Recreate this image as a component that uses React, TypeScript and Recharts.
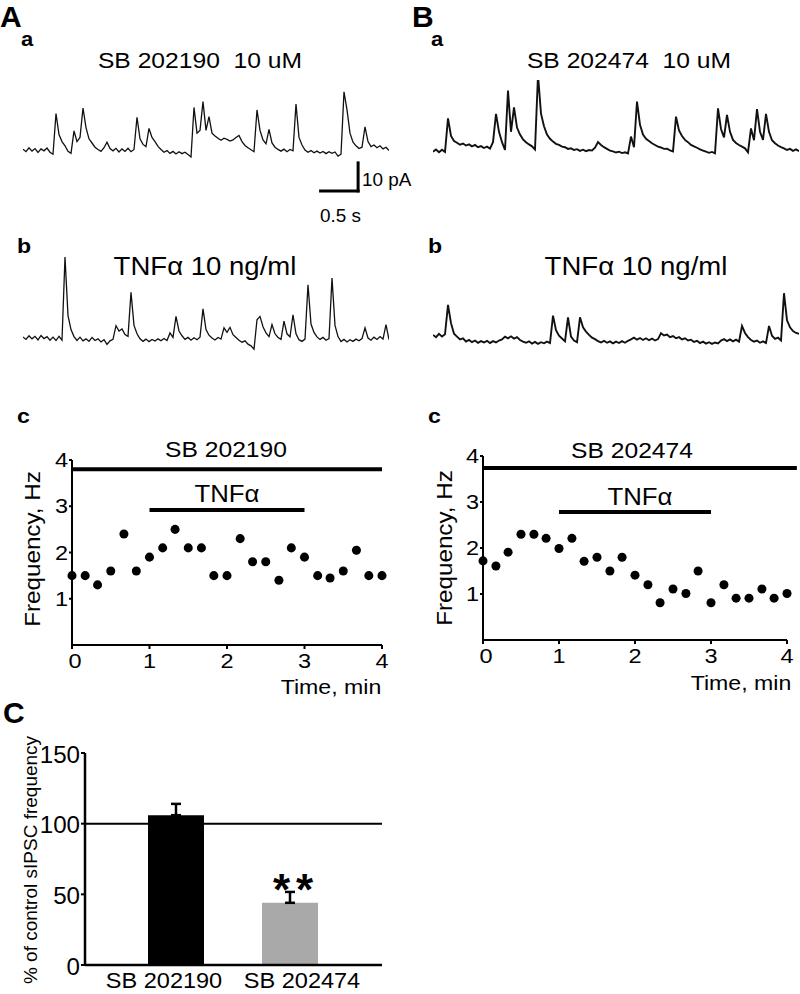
import React from "react";
import {
  LineChart,
  Line,
  XAxis,
  YAxis,
  ReferenceLine,
  ScatterChart,
  Scatter,
  ZAxis,
  BarChart,
  Bar,
  Cell,
  ErrorBar,
} from "recharts";

// sIPSC traces, current in pA above baseline, one sample every 40 ms
const TRACE_SB202190 = [
  0.3, -0.6, 0.8, -0.4, 0.5, -0.9, 0.4, -0.3, 0.7, -0.8,
  -1.5, 13.0, 5.5, 3.0, 1.5, -0.5, -1.2, 6.8, 3.0, 4.5,
  15.0, 8.0, 4.0, 2.5, 1.0, 0.2, -0.5, 0.8, 2.8, 0.5,
  -0.3, 0.6, -0.7, 0.4, -0.5, 0.6, -0.6, 0.2, 11.7, 4.0,
  2.0, 1.2, 7.7, 4.5, 3.0, 1.3, 0.2, -0.8, -0.2, -1.2,
  -0.5, -1.4, -0.6, -1.3, -0.8, -1.6, -2.5, 15.2, 6.0, 7.0,
  17.3, 7.0, 11.9, 6.0, 5.0, 4.2, 3.5, 4.2, 3.8, 3.2,
  3.6, 4.5, 5.2, 3.0, 1.6, 0.8, 0.1, -0.6, 14.3, 7.0,
  3.6, 2.2, 7.4, 2.5, 1.0, 0.2, -0.4, 0.3, -0.6, 0.2,
  -0.3, 16.4, 4.5, 1.8, 0.0, -0.8, -0.2, -1.0, -0.4, -1.1,
  -0.5, -1.3, -0.6, -1.2, -0.7, -2.2, -1.5, 20.8, 14.3, 6.0,
  2.8, 1.5, 0.5, 1.0, 8.3, 3.0, 1.2, 1.8, 0.8, 1.5,
  0.4, 1.0, -0.2,
];

const TRACE_SB202190_TNF = [
  0.4, -0.5, 0.8, -0.3, 0.6, -0.7, 0.9, -0.2, 0.5, -0.8,
  0.3, -0.9, 0.6, -0.8, 28.9, 8.0, 3.0, 0.5, -0.9, 0.3,
  -1.0, -0.3, -1.2, 0.2, -0.9, -0.3, -1.4, -0.6, -2.3, -1.0,
  -0.5, 4.4, 2.5, 3.2, 1.2, 0.6, 16.3, 4.5, 1.5, -0.3,
  -1.2, -0.4, -1.3, -0.5, -1.1, -0.3, -1.0, -0.2, -0.9, 1.8,
  0.2, 7.7, 2.5, 0.8, -0.5, 0.2, -0.8, 0.1, -0.6, 0.3,
  10.4, 3.0, 1.0, 0.0, -0.7, 0.2, -0.4, 3.6, 2.0, 3.8,
  1.2, 0.2, -0.8, -1.5, -1.0, -2.2, -2.8, -4.0, 6.5, 7.7,
  4.0, 1.8, 0.5, 4.8, 1.5, 0.2, -0.5, 6.0, 1.5, 0.4,
  8.3, 1.5, -0.6, -1.2, -0.4, 19.0, 5.0, 2.0, 0.4, -0.5,
  0.2, -0.8, -0.2, 21.4, 4.5, 0.5, -1.3, -0.5, -1.4, -0.6,
  -1.2, -0.4, -1.0, -0.2, 3.6, 0.0, -0.8, 0.3, -0.5, 0.5,
  -0.4, 4.8, -0.6,
];

const TRACE_SB202474 = [
  -0.6, 0.2, -0.8, 0.1, -0.7, 11.3, 5.0, 3.2, 2.6, 1.9,
  2.3, 1.6, 2.0, 1.3, 1.8, 1.0, 1.4, 0.7, 1.2, 0.5,
  2.8, 12.9, 6.5, 2.8, 0.0, 21.2, 6.5, 15.2, 8.0, 5.5,
  3.8, 2.8, 2.0, 1.3, 0.2, 26.8, 13.0, 8.5, 5.5, 4.0,
  3.0, 2.2, 1.8, 1.2, 1.0, 0.4, 0.6, 0.0, 0.3, -0.3,
  0.1, -0.4, 0.0, -0.2, 0.8, 2.8, 1.8, 1.0, 0.4, -0.2,
  -0.5, -0.9, -0.6, -1.1, -0.8, -1.2, 4.8, 1.0, 17.3, 9.0,
  5.5, 4.0, 3.2, 2.4, 1.8, 1.2, 0.9, 0.4, 0.5, -0.1,
  -0.5, 11.9, 7.0, 5.0, 3.6, 2.8, 1.8, 1.3, 0.8, 0.2,
  -0.2, -0.6, -1.0, -0.7, -1.2, 14.9, 7.5, 4.5, 12.5, 6.5,
  3.6, 2.5, 1.8, 1.2, 0.6, -0.8, 7.7, 3.5, 14.6, 6.5,
  3.6, 12.9, 6.5, 3.5, 2.4, 1.6, 1.0, 0.6, 0.0, 0.4,
  -0.3, 0.2, -0.4,
];

const TRACE_SB202474_TNF = [
  1.8, 1.0, 2.2, 1.2, 2.0, 12.5, 6.0, 2.2, 1.2, 0.2,
  0.6, -0.6, 0.0, -0.8, -0.2, -1.0, -0.4, -0.9, -0.3, -1.1,
  -0.4, -0.9, -0.2, 0.2, 1.2, 0.6, 1.3, 0.5, 1.0, 0.0,
  -0.6, -1.0, -0.5, -1.3, -0.7, -1.4, -0.8, -1.2, -0.6, -1.1,
  8.7, 3.5, 1.5, 0.5, -0.5, 8.1, 1.2, -0.2, -0.8, 8.1,
  4.5, 3.0, 1.8, 0.8, 0.3, -0.4, -0.9, -0.3, -1.0, -0.5,
  -1.2, -0.6, -1.1, -0.4, -1.0, -0.3, 0.2, 0.8, 0.1, 0.7,
  0.0, 0.6, -0.1, 0.5, -0.2, 0.3, 2.4, 1.6, 1.9, 1.0,
  1.4, 0.6, 1.0, 0.2, 0.6, -0.2, 0.1, -0.7, -0.3, -1.1,
  -0.6, -1.3, -0.8, -1.4, -0.9, -1.2, -0.2, 0.3, -0.4, 0.2,
  -0.5, 0.1, -0.6, 5.0, 2.5, 1.0, 0.0, -0.6, -0.2, -1.0,
  -0.5, -1.1, 5.0, 1.5, 0.4, 0.8, -0.2, 16.7, 7.0, 4.5,
  3.2, 2.5, 2.2,
];

const SAMPLE_MS = 40;
const SCALE_PA = 10;
const SCALE_S = 0.5;

// frequency time courses (c panels)
const TIME_MIN = [0, 0.17, 0.33, 0.5, 0.67, 0.83, 1, 1.17, 1.33, 1.5, 1.67, 1.83, 2, 2.17, 2.33, 2.5, 2.67, 2.83, 3, 3.17, 3.33, 3.5, 3.67, 3.83, 4];
const FREQ_SB202190 = [1.5, 1.5, 1.3, 1.6, 2.4, 1.6, 1.9, 2.1, 2.5, 2.1, 2.1, 1.5, 1.5, 2.3, 1.8, 1.8, 1.4, 2.1, 1.9, 1.5, 1.45, 1.6, 2.05, 1.5, 1.5];
const FREQ_SB202474 = [1.72, 1.61, 1.91, 2.3, 2.3, 2.21, 1.99, 2.21, 1.71, 1.8, 1.5, 1.8, 1.41, 1.2, 0.81, 1.11, 1.01, 1.5, 0.81, 1.2, 0.91, 0.91, 1.11, 0.91, 1.01];
const FREQ_TICKS = [1, 2, 3, 4];
const TIME_TICKS = [0, 1, 2, 3, 4];

// application bars: [start, end] in min, drawn at a level on the Hz axis
const SB_SPAN_A = [0, 4];
const SB_SPAN_B = [0, 4.13];
const SB_LEVEL_A = 3.8;
const SB_LEVEL_B = 3.74;
const TNF_SPAN = [1, 3];
const TNF_LEVEL_A = 2.92;
const TNF_LEVEL_B = 2.78;

// summary bars (C)
const GROUPS = ["SB 202190", "SB 202474"];
const PCT_CONTROL = [106, 44];
const SEM = [8, 7.7];
const PCT_TICKS = [0, 50, 100, 150];

const FONT = '"Liberation Sans", Arial, Helvetica, sans-serif';
const BAR_COLORS = ["#000000", "#a9a9a9"];

type TProps = {
  x: number;
  y: number;
  size: number;
  bold?: boolean;
  anchor?: "start" | "middle" | "end";
  sx?: number;
  rotate?: boolean;
  lh?: number;
  spacing?: number;
  children: React.ReactNode;
};

const T = ({ x, y, size, bold, anchor = "middle", sx = 1.12, rotate, lh = 1, spacing = 0, children }: TProps) => {
  const tx = anchor === "start" ? "0" : anchor === "end" ? "-100%" : "-50%";
  const origin = anchor === "start" ? "left center" : anchor === "end" ? "right center" : "center";
  return (
    <div
      style={{
        position: "absolute",
        left: x,
        top: y,
        fontSize: size,
        fontWeight: bold ? 700 : 400,
        lineHeight: lh,
        letterSpacing: spacing,
        whiteSpace: "pre",
        transformOrigin: rotate ? "center" : origin,
        transform: rotate
          ? `translate(-50%, -50%) rotate(-90deg) scaleX(${sx})`
          : `translate(${tx}, -50%) scaleX(${sx})`,
      }}
    >
      {children}
    </div>
  );
};

const tickText = (size: number, sx: number, dy: number, anchor: string, shifts: number[] = []) => (p: any) => (
  <g transform={`translate(${p.x + (shifts[p.index] || 0)},${p.y})`}>
    <text
      x={0}
      y={dy}
      transform={`scale(${sx},1)`}
      textAnchor={anchor}
      dominantBaseline="central"
      fontSize={size}
      fill="#000"
    >
      {p.payload.value}
    </text>
  </g>
);

type TraceProps = {
  values: number[];
  left: number;
  top: number;
  domain: [number, number];
  width?: number;
  children?: React.ReactNode;
};

const Trace = ({ values, left, top, domain, width = 1.3, children }: TraceProps) => {
  const data = values.map((v, i) => ({ i, v }));
  return (
    <div style={{ position: "absolute", left, top }}>
      <LineChart
        width={(values.length - 1) * 3}
        height={140}
        data={data}
        margin={{ top: 0, right: 0, bottom: 0, left: 0 }}
      >
        <XAxis dataKey="i" type="number" domain={[0, values.length - 1]} hide />
        <YAxis type="number" domain={domain} hide allowDataOverflow />
        <Line
          dataKey="v"
          type="linear"
          stroke="#111"
          strokeWidth={width}
          dot={false}
          isAnimationActive={false}
        />
        {children}
      </LineChart>
    </div>
  );
};

type FreqProps = {
  left: number;
  freq: number[];
  yAxisWidth: number;
  xAxisHeight: number;
  marginTop: number;
  marginRight: number;
  sbSpan: number[];
  sbLevel: number;
  tnfLevel: number;
};

const FreqPanel = ({ left, freq, yAxisWidth, xAxisHeight, marginTop, marginRight, sbSpan, sbLevel, tnfLevel }: FreqProps) => {
  const points = TIME_MIN.map((t, i) => ({ t, f: freq[i] }));
  return (
    <div style={{ position: "absolute", left, top: 430 }}>
      <ScatterChart
        width={400}
        height={260}
        margin={{ top: marginTop, right: marginRight, bottom: 0, left: 0 }}
      >
        <XAxis
          dataKey="t"
          type="number"
          domain={[0, 4]}
          ticks={TIME_TICKS}
          height={xAxisHeight}
          axisLine={{ stroke: "#000", strokeWidth: 2 }}
          tickLine={{ stroke: "#000", strokeWidth: 2 }}
          tickSize={4}
          tickMargin={0}
          tick={tickText(21, 1.12, 12, "middle", [3])}
        />
        <YAxis
          dataKey="f"
          type="number"
          domain={[0, 4]}
          ticks={FREQ_TICKS}
          width={yAxisWidth}
          axisLine={{ stroke: "#000", strokeWidth: 2 }}
          tickLine={{ stroke: "#000", strokeWidth: 2 }}
          tickSize={3}
          tickMargin={1}
          tick={tickText(21, 1.12, 0, "end")}
        />
        <ZAxis range={[34, 34]} />
        <ReferenceLine
          segment={[
            { x: sbSpan[0], y: sbLevel },
            { x: sbSpan[1], y: sbLevel },
          ]}
          stroke="#000"
          strokeWidth={4}
          ifOverflow="visible"
        />
        <ReferenceLine
          segment={[
            { x: TNF_SPAN[0], y: tnfLevel },
            { x: TNF_SPAN[1], y: tnfLevel },
          ]}
          stroke="#000"
          strokeWidth={4}
          ifOverflow="visible"
        />
        <Scatter data={points} fill="#000" shape="circle" isAnimationActive={false} />
      </ScatterChart>
    </div>
  );
};

const SummaryBars = () => {
  const data = GROUPS.map((g, i) => ({ group: g, pct: PCT_CONTROL[i], err: [0, SEM[i]] }));
  return (
    <div style={{ position: "absolute", left: 0, top: 730 }}>
      <BarChart
        width={400}
        height={264}
        data={data}
        margin={{ top: 23, right: 18, bottom: 0, left: 0 }}
      >
        <XAxis
          dataKey="group"
          height={29}
          padding={{ left: 34, right: 35 }}
          axisLine={{ stroke: "#000", strokeWidth: 2.5 }}
          tickLine={false}
          tickSize={0}
          tickMargin={0}
          interval={0}
          tick={tickText(22, 1.07, 15, "middle", [-12, 12])}
        />
        <YAxis
          type="number"
          domain={[0, 150]}
          ticks={PCT_TICKS}
          width={85}
          axisLine={{ stroke: "#000", strokeWidth: 2.5 }}
          tickLine={{ stroke: "#000", strokeWidth: 2 }}
          tickSize={4}
          tickMargin={1}
          tick={tickText(23, 1.05, 2, "end")}
        />
        <Bar dataKey="pct" barSize={56} isAnimationActive={false}>
          {data.map((d, i) => (
            <Cell key={d.group} fill={BAR_COLORS[i]} />
          ))}
          <ErrorBar dataKey="err" direction="y" width={5} stroke="#000" strokeWidth={2.5} />
        </Bar>
        <ReferenceLine y={100} stroke="#000" strokeWidth={2} />
      </BarChart>
    </div>
  );
};

const scaleSamples = (SCALE_S * 1000) / SAMPLE_MS;
const SCALE_X0 = 99.2;
const SCALE_Y0 = -14.6;

export default function App() {
  return (
    <div
      style={{
        position: "absolute",
        left: 0,
        top: 0,
        width: 800,
        height: 994,
        background: "#fff",
        overflow: "hidden",
        fontFamily: FONT,
        color: "#000",
      }}
    >
      <T x={0} y={17} size={30} bold anchor="start" sx={1} lh={0.75}>A</T>
      <T x={412} y={17} size={30} bold anchor="start" sx={1} lh={0.75}>B</T>
      <T x={3} y={713} size={30} bold anchor="start" sx={1} lh={0.75}>C</T>

      <T x={21} y={39} size={20} bold anchor="start" sx={1.1} lh={0.75}>a</T>
      <T x={431} y={39} size={20} bold anchor="start" sx={1.1} lh={0.75}>a</T>
      <T x={17} y={245.7} size={21} bold anchor="start" sx={1.1} lh={0.75}>b</T>
      <T x={428} y={245.7} size={21} bold anchor="start" sx={1.1} lh={0.75}>b</T>
      <T x={17} y={415.7} size={21} bold anchor="start" sx={1.1} lh={0.75}>c</T>
      <T x={428} y={415.7} size={21} bold anchor="start" sx={1.1} lh={0.75}>c</T>

      <T x={200} y={60.7} size={22}>{"SB 202190  10 uM"}</T>
      <T x={628.5} y={60.7} size={22}>{"SB 202474  10 uM"}</T>
      <T x={205} y={266} size={26} sx={1.06}>TNFα 10 ng/ml</T>
      <T x={635.5} y={266} size={26} sx={1.06}>TNFα 10 ng/ml</T>

      <Trace values={TRACE_SB202190} left={23.3} top={80} domain={[-25, 25]}>
        <ReferenceLine
          segment={[
            { x: SCALE_X0, y: SCALE_Y0 },
            { x: SCALE_X0 + scaleSamples, y: SCALE_Y0 },
          ]}
          stroke="#000"
          strokeWidth={3}
          strokeLinecap="square"
          ifOverflow="visible"
        />
        <ReferenceLine
          segment={[
            { x: SCALE_X0 + scaleSamples, y: SCALE_Y0 },
            { x: SCALE_X0 + scaleSamples, y: SCALE_Y0 + SCALE_PA },
          ]}
          stroke="#000"
          strokeWidth={3}
          strokeLinecap="square"
          ifOverflow="visible"
        />
      </Trace>
      <T x={362} y={179.8} size={18} anchor="start" sx={1.05}>10 pA</T>
      <T x={320} y={215.8} size={18} anchor="start" sx={1.05}>0.5 s</T>

      <Trace values={TRACE_SB202474} left={433.3} top={80} domain={[-25, 25]} width={1.9} />
      <Trace values={TRACE_SB202190_TNF} left={22.7} top={240} domain={[-15, 35]} />
      <Trace values={TRACE_SB202474_TNF} left={433.3} top={240} domain={[-14.3, 35.7]} width={1.9} />

      <FreqPanel
        left={0}
        freq={FREQ_SB202190}
        yAxisWidth={72}
        xAxisHeight={45}
        marginTop={30}
        marginRight={18}
        sbSpan={SB_SPAN_A}
        sbLevel={SB_LEVEL_A}
        tnfLevel={TNF_LEVEL_A}
      />
      <FreqPanel
        left={400}
        freq={FREQ_SB202474}
        yAxisWidth={83}
        xAxisHeight={50}
        marginTop={26}
        marginRight={13}
        sbSpan={SB_SPAN_B}
        sbLevel={SB_LEVEL_B}
        tnfLevel={TNF_LEVEL_B}
      />
      <T x={226} y={450.4} size={22}>SB 202190</T>
      <T x={631.7} y={451} size={22}>SB 202474</T>
      <T x={226.5} y={494} size={23}>TNFα</T>
      <T x={640} y={497} size={23}>TNFα</T>
      <T x={33} y={549} size={22} rotate sx={1.1}>Frequency, Hz</T>
      <T x={445} y={548} size={22} rotate sx={1.1}>Frequency, Hz</T>
      <T x={331} y={686} size={21} sx={1.1}>Time, min</T>
      <T x={741} y={682} size={21} sx={1.1}>Time, min</T>

      <SummaryBars />
      <T x={30} y={860} size={19} rotate sx={1}>% of control sIPSC frequency</T>
      <T x={296} y={890} size={44} bold sx={1} spacing={6} lh={0.8}>**</T>
    </div>
  );
}
